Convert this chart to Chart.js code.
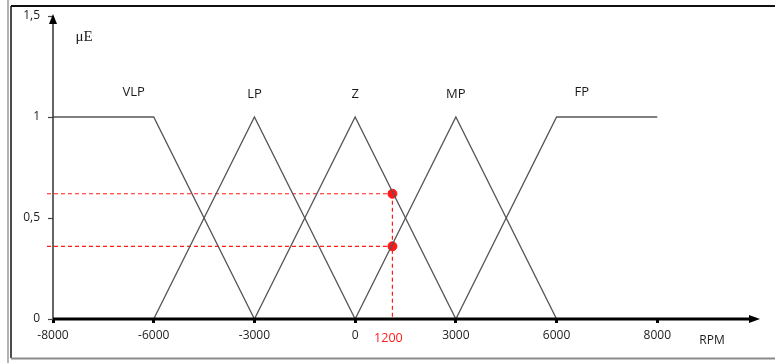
<!DOCTYPE html>
<html>
<head>
<meta charset="utf-8">
<script src="https://cdn.jsdelivr.net/npm/chart.js@4"></script>
<style>
  html,body{margin:0;padding:0;background:#fff;}
  #wrap{width:775px;height:363px;position:relative;}
</style>
</head>
<body>
<div id="wrap"><canvas id="c" width="775" height="363"></canvas></div>
<script>
// x positions are category slots (the axis is evenly spaced, not linear in RPM)
const xTickLabels = ["-8000", "-6000", "-3000", "0", "3000", "6000", "8000"];
const yTickValues = [0, 0.5, 1, 1.5];

// membership functions, as [slot, degree] pairs
const setNames = ["VLP", "LP", "Z", "MP", "FP"];
const vlp = [[0, 1], [1, 1], [2, 0]];
const lp  = [[1, 0], [2, 1], [3, 0]];
const zz  = [[2, 0], [3, 1], [4, 0]];
const mp  = [[3, 0], [4, 1], [5, 0]];
const fp  = [[4, 0], [5, 1], [6, 1]];
const labelPos = [[0.8, 1.12], [2, 1.11], [3, 1.11], [4, 1.11], [5.25, 1.12]];

// reading at 1200 RPM
const markLabel = "1200";
const markX = 3.37;
const markY = [0.62, 0.36];

const $ = id => document.getElementById(id);
const pts = a => a.map(p => ({x: p[0], y: p[1]}));
const GRAY = "#555", RED = "#ff1a1a";
const FONT = "'Open Sans', sans-serif";

const mfSet = (d) => ({ data: pts(d), borderColor: GRAY, borderWidth: 1.3, pointRadius: 0, tension: 0 });
const dashed = (d) => ({ data: d, borderColor: RED, borderWidth: 1.2, borderDash: [4, 3], pointRadius: 0, clip: false });

const decor = {
  id: "decor",
  beforeDraw(chart){
    const ctx = chart.ctx;
    ctx.save();
    ctx.fillStyle = "#fff";
    ctx.fillRect(0, 0, chart.width, chart.height);
    // outer frame
    ctx.lineWidth = 1.5;
    ctx.strokeStyle = "#9a9a9a";
    ctx.beginPath(); ctx.moveTo(8, 0); ctx.lineTo(8, 363); ctx.stroke();
    ctx.strokeStyle = "#111";
    ctx.beginPath(); ctx.moveTo(11, 6); ctx.lineTo(11, 358); ctx.stroke();
    ctx.lineWidth = 2;
    ctx.beginPath(); ctx.moveTo(11, 6); ctx.lineTo(775, 6); ctx.stroke();
    ctx.strokeStyle = "#8a8a8a";
    ctx.beginPath(); ctx.moveTo(11, 358.5); ctx.lineTo(775, 358.5); ctx.stroke();
    ctx.restore();
  },
  afterDraw(chart){
    const ctx = chart.ctx, xs = chart.scales.x, ys = chart.scales.y;
    const x0 = xs.getPixelForValue(0), y0 = ys.getPixelForValue(0);
    const yTop = ys.getPixelForValue(1.5), xEnd = xs.getPixelForValue(7);
    ctx.save();
    // y axis with arrow
    ctx.strokeStyle = "#333"; ctx.lineWidth = 1.5;
    ctx.beginPath(); ctx.moveTo(x0, y0); ctx.lineTo(x0, yTop + 4); ctx.stroke();
    ctx.fillStyle = "#000";
    ctx.beginPath(); ctx.moveTo(x0, yTop - 2); ctx.lineTo(x0 - 4, yTop + 8); ctx.lineTo(x0 + 4, yTop + 8); ctx.closePath(); ctx.fill();
    // x axis with arrow
    ctx.strokeStyle = "#000"; ctx.lineWidth = 3;
    ctx.beginPath(); ctx.moveTo(x0, y0); ctx.lineTo(xEnd - 4, y0); ctx.stroke();
    ctx.beginPath(); ctx.moveTo(xEnd + 2, y0); ctx.lineTo(xEnd - 9, y0 - 4); ctx.lineTo(xEnd - 9, y0 + 4); ctx.closePath(); ctx.fill();
    // set names
    ctx.font = "13px " + FONT;
    ctx.fillStyle = "#1a1a1a"; ctx.textAlign = "center"; ctx.textBaseline = "middle";
    setNames.forEach((n, i) => ctx.fillText(n, xs.getPixelForValue(labelPos[i][0]), ys.getPixelForValue(labelPos[i][1])));
    // axis titles
    ctx.font = "15px 'Liberation Serif', serif";
    ctx.fillText("\u03bcE", 84, 37);
    ctx.font = "12px " + FONT;
    ctx.fillText("RPM", 712, 341);
    ctx.fillStyle = RED;
    ctx.font = "12.5px " + FONT;
    ctx.fillText(markLabel, xs.getPixelForValue(markX) - 4, 338);
    ctx.restore();
  }
};

new Chart($("c").getContext("2d"), {
  type: "line",
  data: {
    datasets: [
      mfSet(vlp), mfSet(lp), mfSet(zz), mfSet(mp), mfSet(fp),
      dashed([{x: -0.06, y: markY[0]}, {x: markX, y: markY[0]}]),
      dashed([{x: -0.06, y: markY[1]}, {x: markX, y: markY[1]}]),
      dashed([{x: markX, y: markY[0]}, {x: markX, y: 0}]),
      { data: markY.map(v => ({x: markX, y: v})), showLine: false, pointRadius: 4.5,
        pointBackgroundColor: RED, pointBorderColor: RED, clip: false }
    ]
  },
  options: {
    responsive: false,
    animation: false,
    events: [],
    layout: { padding: { left: 0, right: 17, top: 16, bottom: 0 } },
    plugins: { legend: { display: false }, tooltip: { enabled: false } },
    scales: {
      x: {
        type: "linear", min: 0, max: 7,
        afterFit: s => { s.height = 44; },
        afterBuildTicks: s => { s.ticks = xTickLabels.map((_, i) => ({value: i})); },
        border: { display: false },
        grid: { drawOnChartArea: false, drawTicks: true, tickLength: 4, tickWidth: 3, tickColor: "#000" },
        ticks: { callback: v => xTickLabels[v] ?? "", padding: 5, maxRotation: 0, autoSkip: false,
                 color: "#222", font: { family: FONT, size: 12 } }
      },
      y: {
        min: 0, max: 1.5,
        afterFit: s => { s.width = 53; },
        afterBuildTicks: s => { s.ticks = yTickValues.map(v => ({value: v})); },
        border: { display: false },
        grid: { drawOnChartArea: false, drawTicks: true, tickLength: 5, tickWidth: 1.2, tickColor: "#444" },
        ticks: { callback: v => String(v).replace(".", ","), padding: 8,
                 color: "#222", font: { family: FONT, size: 12 } }
      }
    }
  },
  plugins: [decor]
});
</script>
</body>
</html>
